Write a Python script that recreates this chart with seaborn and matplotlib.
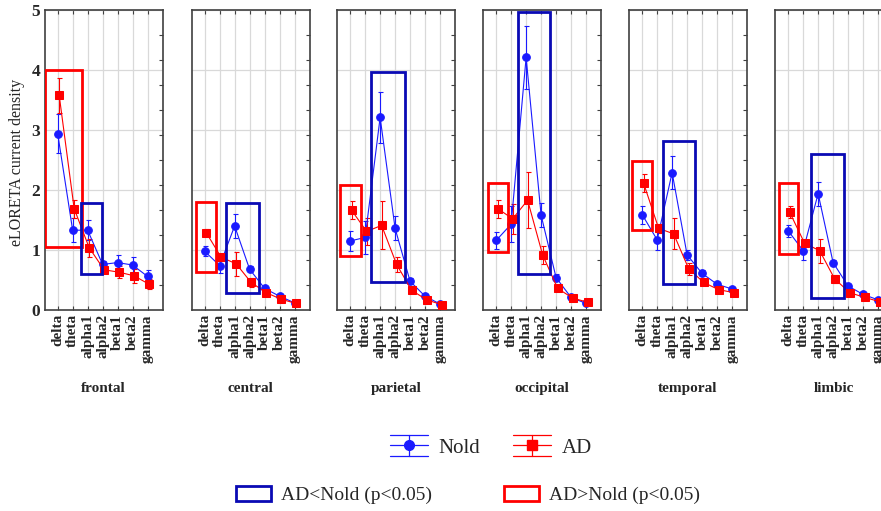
import numpy as np
import pandas as pd
import seaborn as sns
import matplotlib.pyplot as plt
from matplotlib.patches import Rectangle, Patch
from matplotlib.lines import Line2D
from matplotlib.legend_handler import HandlerBase
from matplotlib.ticker import MultipleLocator

bands = ['delta', 'theta', 'alpha1', 'alpha2', 'beta1', 'beta2', 'gamma']
regions = ['frontal', 'central', 'parietal', 'occipital', 'temporal', 'limbic']

# mean and error per region (rows) and band (columns)
nold_mean = [[2.94, 1.33, 1.33, 0.76, 0.79, 0.75, 0.56],
             [0.98, 0.74, 1.40, 0.68, 0.36, 0.23, 0.12],
             [1.15, 1.21, 3.21, 1.36, 0.48, 0.23, 0.10],
             [1.16, 1.43, 4.21, 1.58, 0.54, 0.21, 0.11],
             [1.59, 1.17, 2.29, 0.92, 0.61, 0.43, 0.35],
             [1.32, 0.99, 1.94, 0.79, 0.40, 0.26, 0.17]]
nold_err = [[0.33, 0.20, 0.17, 0.05, 0.12, 0.13, 0.10],
            [0.08, 0.12, 0.20, 0.05, 0.03, 0.03, 0.02],
            [0.17, 0.27, 0.42, 0.20, 0.05, 0.03, 0.02],
            [0.14, 0.30, 0.52, 0.20, 0.06, 0.04, 0.02],
            [0.15, 0.17, 0.28, 0.08, 0.05, 0.04, 0.03],
            [0.10, 0.15, 0.20, 0.05, 0.04, 0.03, 0.02]]
ad_mean = [[3.58, 1.69, 1.04, 0.67, 0.63, 0.57, 0.43],
           [1.29, 0.88, 0.77, 0.46, 0.29, 0.18, 0.11],
           [1.66, 1.31, 1.41, 0.76, 0.33, 0.17, 0.09],
           [1.69, 1.52, 1.83, 0.92, 0.36, 0.20, 0.13],
           [2.11, 1.36, 1.27, 0.69, 0.46, 0.34, 0.29],
           [1.63, 1.11, 0.99, 0.52, 0.29, 0.21, 0.14]]
ad_err = [[0.29, 0.15, 0.15, 0.05, 0.10, 0.12, 0.08],
          [0.06, 0.06, 0.20, 0.07, 0.03, 0.03, 0.02],
          [0.15, 0.22, 0.40, 0.12, 0.04, 0.03, 0.02],
          [0.15, 0.25, 0.47, 0.15, 0.05, 0.03, 0.02],
          [0.15, 0.08, 0.26, 0.10, 0.04, 0.03, 0.02],
          [0.10, 0.05, 0.20, 0.07, 0.03, 0.02, 0.02]]

# significance boxes: (x0, x1, y0, y1) in band-index / density units
red_boxes = [(-0.86, 1.60, 1.05, 4.00),
             (-0.58, 0.75, 0.64, 1.80),
             (-0.65, 0.69, 0.90, 2.08),
             (-0.55, 0.81, 0.96, 2.12),
             (-0.67, 0.67, 1.34, 2.49),
             (-0.63, 0.63, 0.93, 2.12)]
blue_boxes = [(1.57, 2.95, 0.60, 1.78),
              (1.42, 3.64, 0.29, 1.78),
              (1.38, 3.67, 0.47, 3.96),
              (1.48, 3.62, 0.60, 4.96),
              (1.41, 3.54, 0.43, 2.82),
              (1.52, 3.72, 0.20, 2.60)]

sns.set_theme(style='whitegrid')
plt.rcParams['font.family'] = ['Liberation Serif', 'DejaVu Serif']

BLUE = '#1a1aff'
RED = '#ff0000'
BOX_BLUE = '#0a0ab4'

W, H = 881, 511
fig = plt.figure(figsize=(W / 100, H / 100), dpi=100)
fig.patch.set_facecolor('white')
lefts = [44.5, 191.5, 337, 483, 629, 775]

for i, reg in enumerate(regions):
    ax = fig.add_axes([lefts[i] / W, (H - 310) / H, 118 / W, 300 / H])
    df = pd.DataFrame({
        'pos': list(range(len(bands))) * 2,
        'value': nold_mean[i] + ad_mean[i],
        'err': nold_err[i] + ad_err[i],
        'group': ['Nold'] * len(bands) + ['AD'] * len(bands),
    })
    df.loc[df.group == 'AD', 'pos'] = df.loc[df.group == 'AD', 'pos'] + 0.1

    for grp, col, mk, ms in [('Nold', BLUE, 'o', 5.5), ('AD', RED, 's', 6)]:
        d = df[df.group == grp]
        ax.errorbar(d['pos'], d['value'], yerr=d['err'], fmt='none',
                    ecolor=col, elinewidth=0.8, capsize=1.8, capthick=0.8, zorder=3)
        sns.lineplot(data=d, x='pos', y='value', color=col, marker=mk,
                     markersize=ms, markeredgecolor=col, linewidth=0.8,
                     estimator=None, ax=ax, zorder=4)

    for (x0, x1, y0, y1), col in [(red_boxes[i], RED), (blue_boxes[i], BOX_BLUE)]:
        ax.add_patch(Rectangle((x0, y0), x1 - x0, y1 - y0, fill=False,
                               edgecolor=col, linewidth=2, zorder=5))

    ax.set_xlim(-0.88, 7.0)
    ax.set_ylim(0, 5)
    ax.set_xticks(range(len(bands)))
    ax.set_xticklabels(bands, rotation=90, fontsize=11, fontweight='bold')
    ax.set_yticks(range(6))
    ax.yaxis.set_minor_locator(MultipleLocator(5 / 12))
    ax.grid(True, which='major', color='#d9d9d9', linewidth=0.9)
    ax.grid(False, which='minor')
    ax.set_axisbelow(True)
    ax.tick_params(axis='x', direction='in', length=3, top=True, bottom=True,
                   pad=3, color='#404040', width=0.8)
    ax.tick_params(axis='y', which='major', length=0, pad=3)
    ax.tick_params(axis='y', which='minor', left=False, right=True,
                   direction='in', length=3, color='#404040', width=0.8)
    if i == 0:
        ax.set_yticklabels([str(v) for v in range(6)], fontsize=12.5,
                           fontweight='bold')
    else:
        ax.set_yticklabels([])
    ax.set_xlabel('')
    ax.set_ylabel('')
    for sp in ax.spines.values():
        sp.set_color('#404040')
        sp.set_linewidth(1.2)
    ax.text(0.5, -0.26, reg, transform=ax.transAxes, ha='center', va='center',
            fontsize=11, fontweight='bold')

fig.text(17 / W, 1 - 162 / H, 'eLORETA current density', rotation=90,
         ha='center', va='center', fontsize=11.5)


class ErrHandler(HandlerBase):
    def create_artists(self, legend, orig_handle, xdescent, ydescent,
                       width, height, fontsize, trans):
        col = orig_handle.get_color()
        mk = orig_handle.get_marker()
        x0, x1 = -xdescent, -xdescent + width
        xc = (x0 + x1) / 2
        yc = -ydescent + height / 2
        dy = height * 0.75
        arts = [Line2D([x0, x1], [y, y], color=col, lw=0.9)
                for y in (yc - dy, yc, yc + dy)]
        arts.append(Line2D([xc, xc], [yc - dy, yc + dy], color=col, lw=0.9))
        arts.append(Line2D([xc], [yc], marker=mk, color=col, ms=7,
                           linestyle='none'))
        for a in arts:
            a.set_transform(trans)
        return arts


nold_h = Line2D([], [], color=BLUE, marker='o')
ad_h = Line2D([], [], color=RED, marker='s')
fig.legend(handles=[nold_h, ad_h], labels=['Nold', 'AD'],
           handler_map={nold_h: ErrHandler(), ad_h: ErrHandler()},
           loc='center', bbox_to_anchor=(491 / W, 1 - 448 / H), ncol=2,
           frameon=False, fontsize=15, handlelength=1.8, handletextpad=0.5,
           columnspacing=1.6)

box_handles = [Patch(facecolor='none', edgecolor=BOX_BLUE, linewidth=2),
               Patch(facecolor='none', edgecolor=RED, linewidth=2)]
fig.legend(handles=box_handles,
           labels=['AD<Nold (p<0.05)', 'AD>Nold (p<0.05)'],
           loc='center', bbox_to_anchor=(468 / W, 1 - 495 / H), ncol=2,
           frameon=False, fontsize=14, handlelength=1.8, handleheight=0.8,
           handletextpad=0.5, columnspacing=3.7)

plt.savefig('out.png', dpi=100, facecolor='white')
